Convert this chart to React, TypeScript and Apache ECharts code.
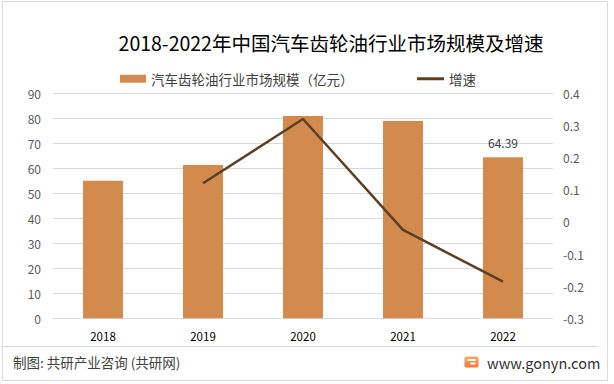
import React, { useEffect, useRef } from "react";
import * as echarts from "echarts";

const categories = ["2018", "2019", "2020", "2021", "2022"];
const marketSize = [55, 61.3, 80.9, 78.9, 64.39];
const growthRate: (number | null)[] = [null, 0.12, 0.32, -0.025, -0.186];
const labelledIndex = 4;

const TITLE = "2018-2022年中国汽车齿轮油行业市场规模及增速";
const BAR_NAME = "汽车齿轮油行业市场规模（亿元）";
const LINE_NAME = "增速";
const FOOTER = "制图: 共研产业咨询 (共研网)";
const SITE = "www.gonyn.com";

const FONT = "'Noto Sans CJK SC', 'Noto Sans', sans-serif";
const BAR_COLOR = "#D38B4D";
const LINE_COLOR = "#5C3F24";
const GRID_COLOR = "#D9D9D9";

export default function App() {
  const ref = useRef<HTMLDivElement>(null);

  useEffect(() => {
    if (!ref.current) return;
    const chart = echarts.init(ref.current, undefined, { renderer: "svg" });
    const legendText = { fontSize: 13.5, color: "#404040", fontFamily: FONT };
    chart.setOption({
      animation: false,
      backgroundColor: "#ffffff",
      textStyle: { fontFamily: FONT },
      grid: { left: 53, top: 93.3, width: 500, height: 225, containLabel: false },
      legend: [
        {
          left: 120,
          top: 72,
          padding: 0,
          itemWidth: 26,
          itemHeight: 8,
          textStyle: legendText,
          data: [{ name: BAR_NAME, icon: "rect" }],
        },
        {
          left: 417,
          top: 72,
          padding: 0,
          itemWidth: 27,
          itemHeight: 3,
          textStyle: legendText,
          data: [{ name: LINE_NAME, icon: "rect" }],
        },
      ],
      xAxis: {
        type: "category",
        data: categories,
        boundaryGap: true,
        axisLine: { show: true, lineStyle: { color: GRID_COLOR, width: 1 } },
        axisTick: { show: false },
        axisLabel: { color: "#000000", fontSize: 11.5, margin: 12, fontFamily: FONT },
      },
      yAxis: [
        {
          type: "value",
          min: 0,
          max: 90,
          interval: 10,
          axisLine: { show: false },
          axisTick: { show: false },
          axisLabel: { color: "#595959", fontSize: 12, margin: 12, fontFamily: FONT },
          splitLine: { lineStyle: { color: GRID_COLOR, width: 1 } },
        },
        {
          type: "value",
          min: -0.3,
          max: 0.4,
          interval: 0.1,
          axisLine: { show: false },
          axisTick: { show: false },
          splitLine: { show: false },
          axisLabel: {
            color: "#595959",
            fontSize: 12,
            margin: 10,
            fontFamily: FONT,
            formatter: (v: number) => String(Number(v.toFixed(1))),
          },
        },
      ],
      series: [
        {
          name: BAR_NAME,
          type: "bar",
          barWidth: 40,
          itemStyle: { color: BAR_COLOR },
          label: {
            show: false,
            position: "top",
            distance: 9,
            color: "#404040",
            fontSize: 12,
            fontFamily: FONT,
          },
          data: marketSize.map((v, i) =>
            i === labelledIndex ? { value: v, label: { show: true } } : v
          ),
        },
        {
          name: LINE_NAME,
          type: "line",
          yAxisIndex: 1,
          symbol: "none",
          showSymbol: false,
          lineStyle: { color: LINE_COLOR, width: 2.5 },
          itemStyle: { color: LINE_COLOR },
          data: growthRate.map((v) => (v === null ? "-" : v)),
        },
      ],
      graphic: [
        {
          type: "rect",
          silent: true,
          shape: { x: 2.5, y: 1.5, width: 605, height: 379 },
          style: { fill: "none", stroke: GRID_COLOR, lineWidth: 1 },
        },
        {
          type: "text",
          x: 331,
          y: 42,
          style: {
            text: TITLE,
            fontSize: 19.5,
            fontFamily: FONT,
            fill: "#000000",
            align: "center",
            verticalAlign: "middle",
          },
        },
        {
          type: "line",
          silent: true,
          shape: { x1: 3, y1: 346.5, x2: 597, y2: 346.5 },
          style: { stroke: GRID_COLOR, lineWidth: 1 },
        },
        {
          type: "text",
          x: 13,
          y: 362,
          style: {
            text: FOOTER,
            fontSize: 13.5,
            fontFamily: FONT,
            fill: "#404040",
            verticalAlign: "middle",
          },
        },
        {
          type: "rect",
          shape: { x: 464.5, y: 356.5, width: 14, height: 11, r: 1.5 },
          style: {
            fill: new echarts.graphic.LinearGradient(0, 0, 0, 1, [
              { offset: 0, color: "#F9A86A" },
              { offset: 1, color: "#F27A3C" },
            ]),
          },
        },
        {
          type: "rect",
          shape: { x: 467.5, y: 359, width: 8, height: 2 },
          style: { fill: "#ffffff" },
        },
        {
          type: "rect",
          shape: { x: 470.5, y: 362.5, width: 5, height: 2 },
          style: { fill: "#ffffff" },
        },
        {
          type: "text",
          x: 487,
          y: 362,
          style: {
            text: SITE,
            fontSize: 14.5,
            fontFamily: FONT,
            fill: "#333333",
            verticalAlign: "middle",
          },
        },
      ],
    });
    return () => chart.dispose();
  }, []);

  return (
    <div
      ref={ref}
      style={{ position: "fixed", left: 0, top: 0, width: 614, height: 384 }}
    />
  );
}
